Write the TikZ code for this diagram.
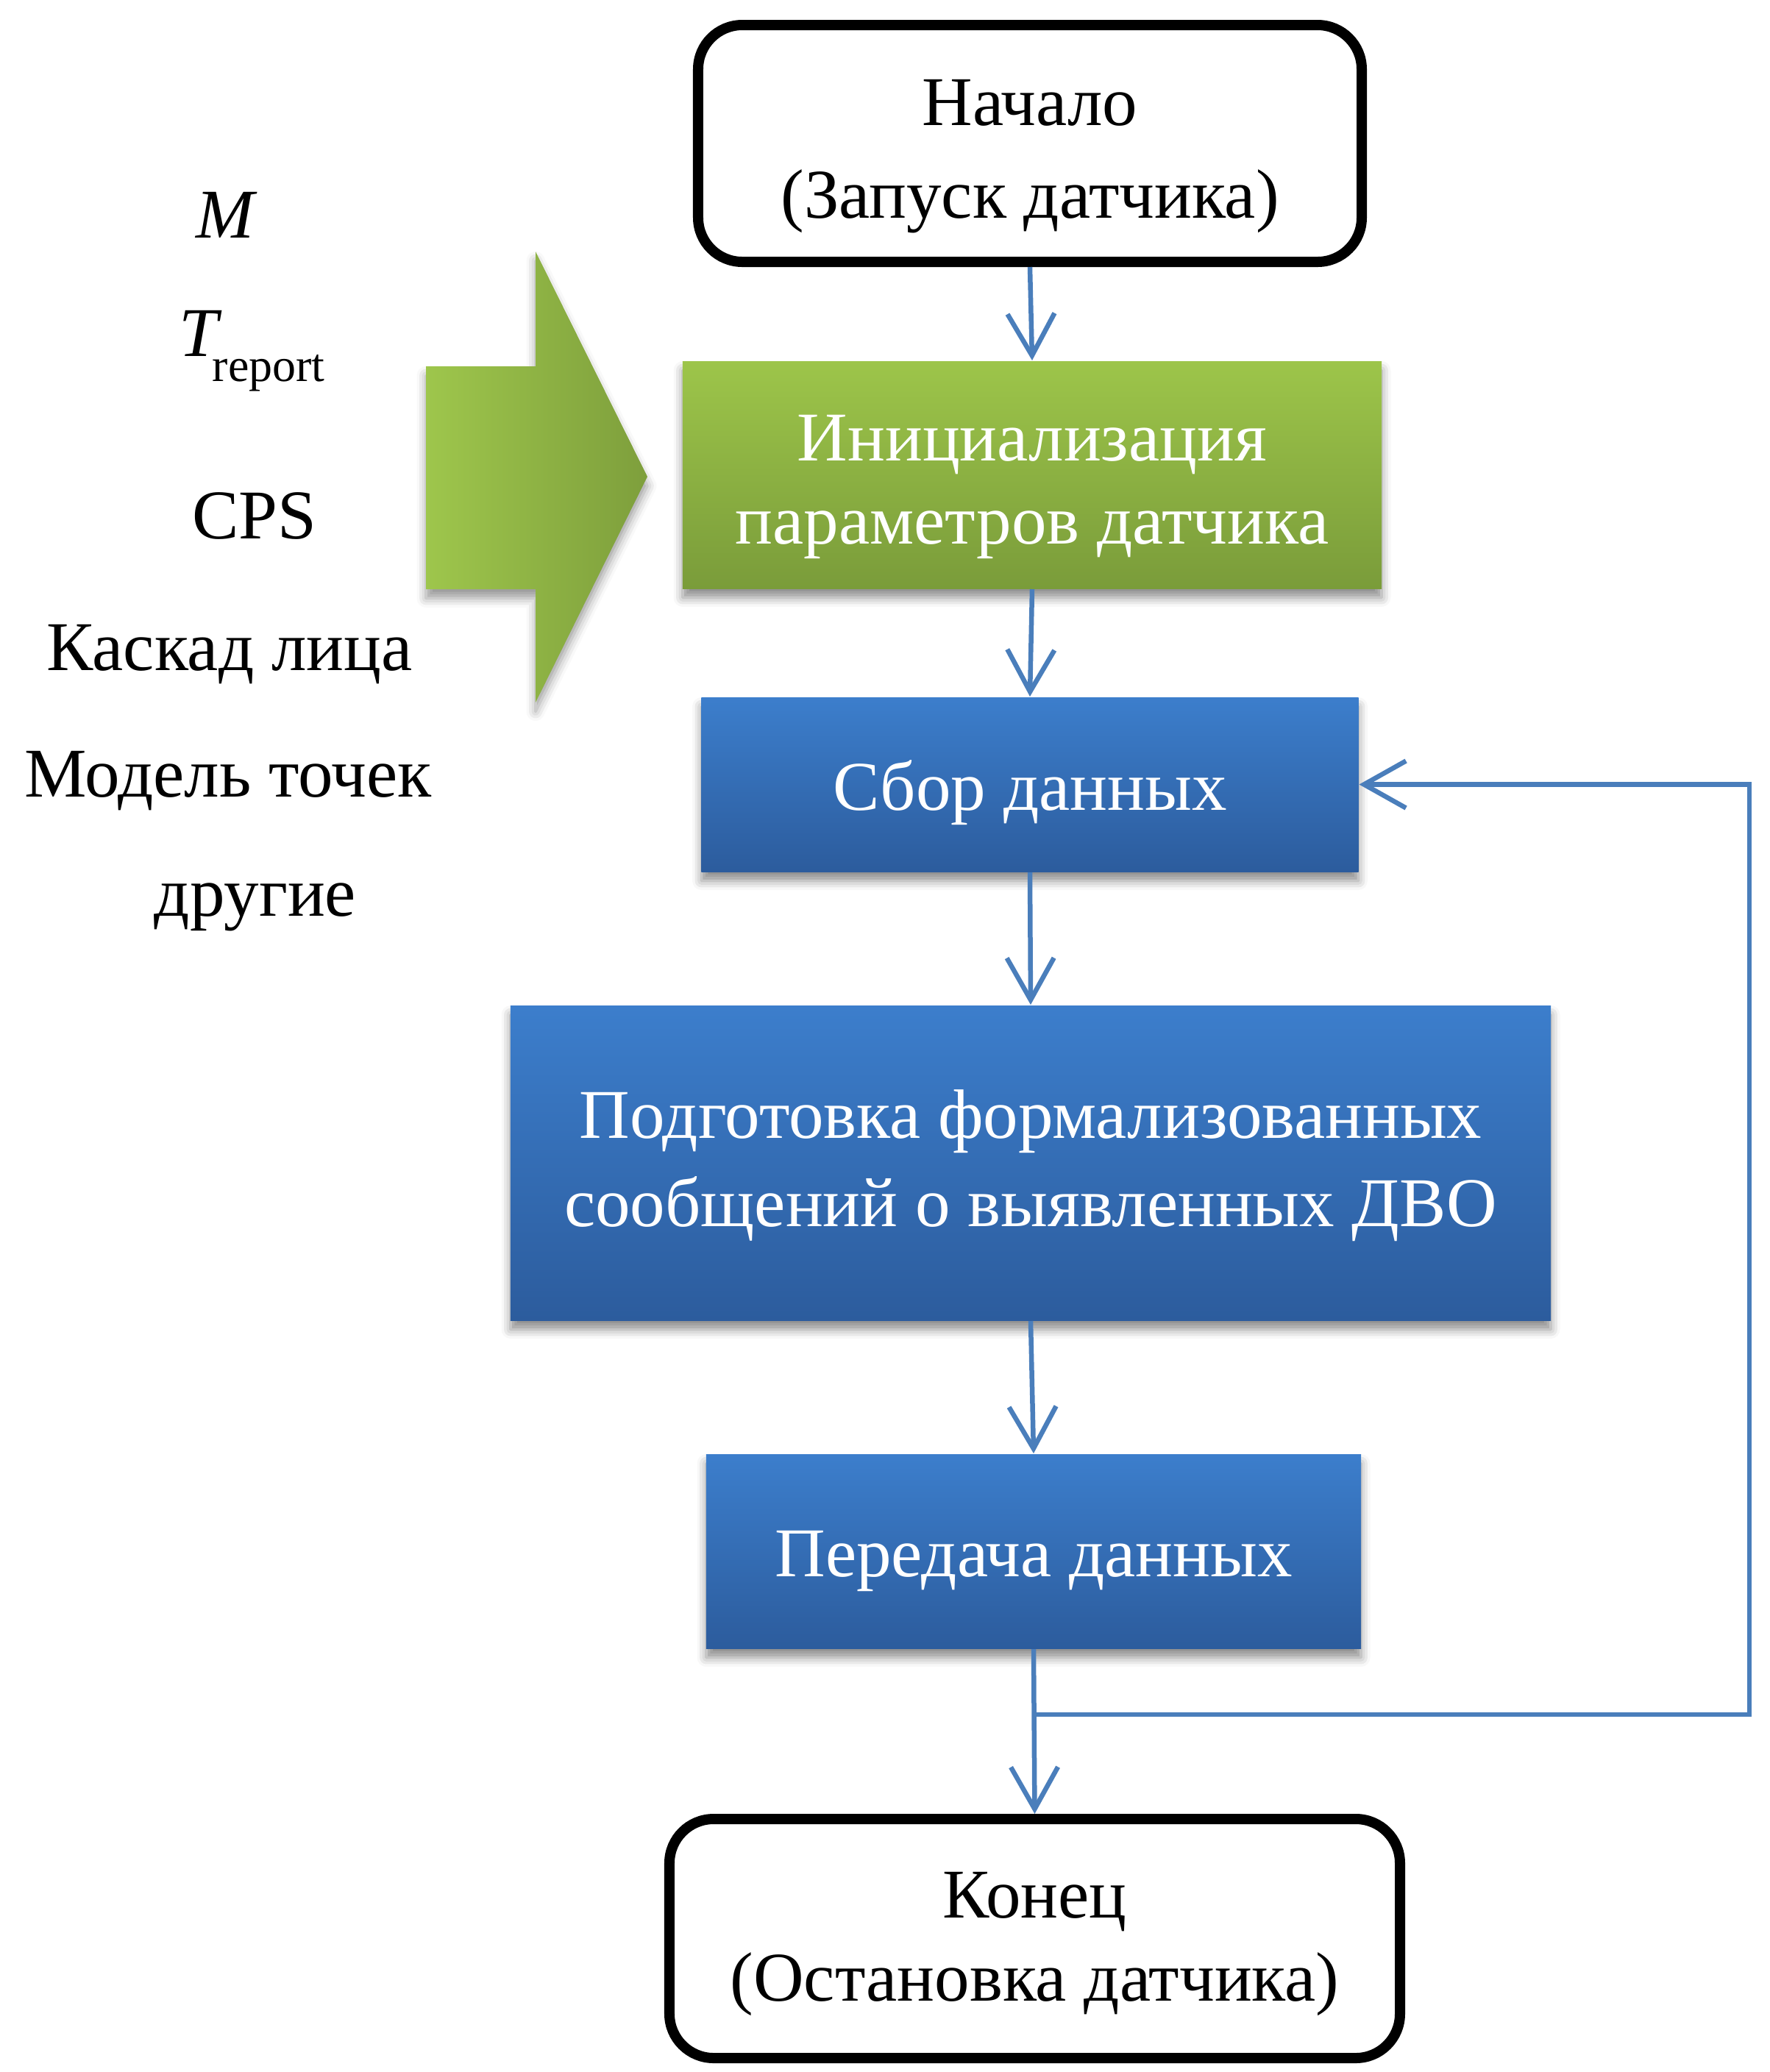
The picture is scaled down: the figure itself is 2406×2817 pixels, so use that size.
\documentclass[tikz,border=0pt]{standalone}
\usepackage{fontspec}
\setmainfont{Liberation Serif}
\usetikzlibrary{arrows.meta,shadows.blur,calc}

\definecolor{flowblue}{RGB}{74,126,187}
\definecolor{boxblueT}{RGB}{60,126,204}
\definecolor{boxblueB}{RGB}{44,92,157}
\definecolor{boxgreenT}{RGB}{157,197,74}
\definecolor{boxgreenB}{RGB}{122,156,58}
\definecolor{arrowL}{RGB}{158,198,76}
\definecolor{arrowR}{RGB}{126,159,60}

\newcommand\boxfont{\fontsize{19}{23}\selectfont}
\newcommand\paramfont{\fontsize{19}{23}\selectfont}
% zero-width strut that lowers a text block inside its box
\newcommand\drop[1]{\rule{0pt}{#1}}

\tikzset{
  terminal/.style={draw=black, line width=2.8pt, rounded corners=12pt, fill=white,
    align=center, font=\boxfont, text=black},
  procbox/.style={align=center, font=\boxfont, text=white,
    blur shadow={shadow xshift=0pt, shadow yshift=-2.5pt, shadow blur radius=2.5pt, shadow opacity=45}},
  bluebox/.style={procbox, top color=boxblueT, bottom color=boxblueB},
  greenbox/.style={procbox, top color=boxgreenT, bottom color=boxgreenB},
  link/.style={draw=flowblue, line width=1.3pt},
  flow/.style={link, -{Straight Barb[length=11.4pt,width=12.8pt]}},
  param/.style={font=\paramfont, anchor=base, inner sep=0pt}
}

\begin{document}
\begin{tikzpicture}[x=0.2pt, y=-0.2pt]
\useasboundingbox (0,0) rectangle (2406,2817);

% input parameters
\node[param] (pm) at (308,323) {\textit{M}};
\node[param, anchor=base west] (pt) at (242,484)
  {\textit{T}\kern-2.5pt\raisebox{-6.8pt}{\fontsize{12.8}{15}\selectfont report}};
\node[param] (pcps) at (346,732) {CPS};
\node[param] (pcasc) at (312,911) {Каскад лица};
\node[param] (pmodel) at (310,1083) {Модель точек};
\node[param] (pother) at (347,1245) {другие};

% big input arrow
\path[left color=arrowL, right color=arrowR,
      blur shadow={shadow xshift=0pt, shadow yshift=-2.5pt, shadow blur radius=2.5pt, shadow opacity=40}]
  (579,498) -- (728,498) -- (728,342) -- (880,648) -- (728,955) -- (728,801) -- (579,801) -- cycle;

% flowchart blocks
\node[terminal, minimum width=180.4pt, minimum height=64.4pt] (start) at (1400,195)
  {\drop{19.3pt}Начало\\[2.2pt](Запуск датчика)};
\node[greenbox, minimum width=190pt, minimum height=61.8pt] (init) at (1403,645.5)
  {\drop{19pt}Инициализация\\[-0.4pt]параметров датчика};
\node[bluebox, minimum width=178.6pt, minimum height=47.4pt] (collect) at (1400,1066.5)
  {\drop{17.9pt}Сбор данных};
\node[bluebox, minimum width=282.8pt, minimum height=85.6pt] (prepare) at (1401,1581)
  {\drop{14.6pt}Подготовка формализованных\\[1.1pt]сообщений о выявленных ДВО};
\node[bluebox, minimum width=178pt, minimum height=52.8pt] (send) at (1405,2109)
  {\drop{17.9pt}Передача данных};
\node[terminal, minimum width=198.6pt, minimum height=65pt] (finish) at (1406.5,2635.5)
  {\drop{15.5pt}Конец\\[-0.4pt](Остановка датчика)};

% connectors
\draw[flow] (start.south) -- (init.north);
\draw[flow] (init.south) -- (collect.north);
\draw[flow] (collect.south) -- (prepare.north);
\draw[flow] (prepare.south) -- (send.north);
\draw[flow] (send.south) -- (finish.north);

% feedback loop
\coordinate (loopcorner) at (2378,2331);
\draw[flow] (send.south |- loopcorner) -- (loopcorner) |- (collect.east);
\end{tikzpicture}
\end{document}
